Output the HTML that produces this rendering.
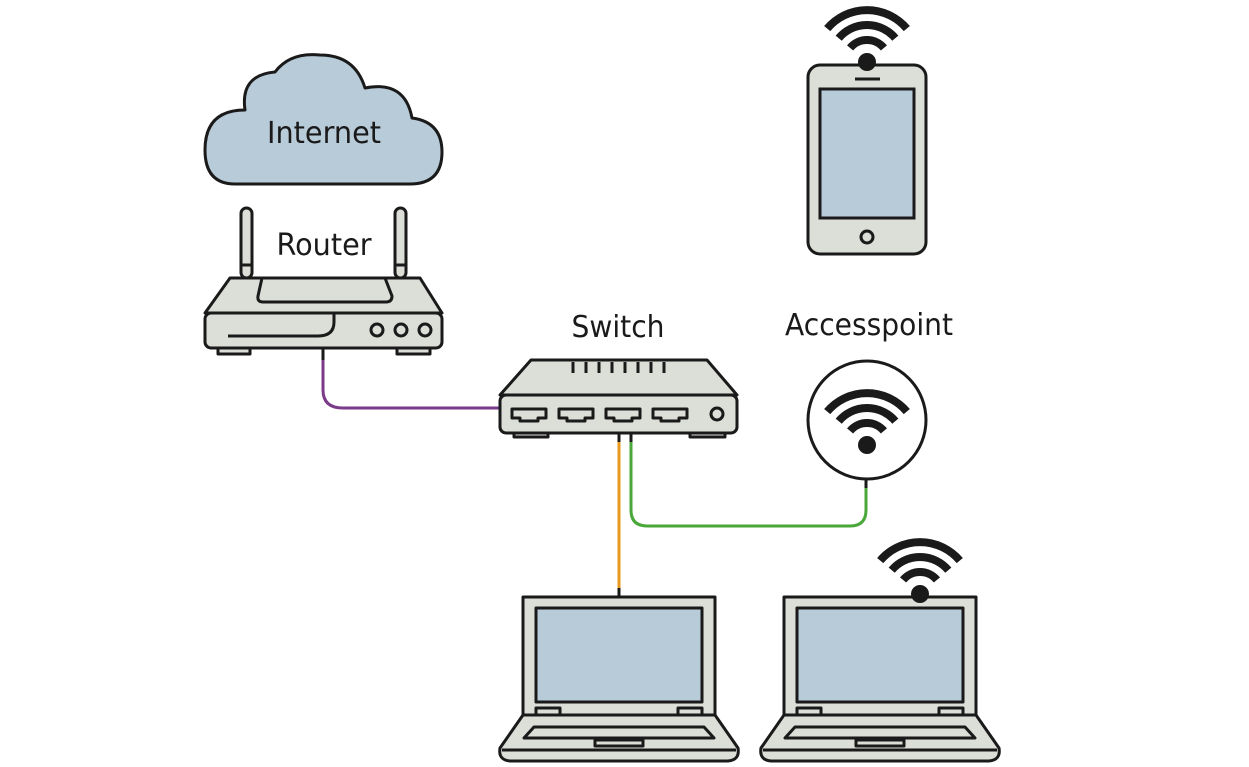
<!DOCTYPE html>
<html><head><meta charset="utf-8"><style>
html,body{margin:0;padding:0;background:#fff;}
svg{display:block}
text{font-family:"DejaVu Sans","Liberation Sans",sans-serif;fill:#1a1a1a;}
</style></head><body>
<svg width="1249" height="767" viewBox="0 0 1249 767" xmlns="http://www.w3.org/2000/svg">
<defs>
<g id="wifi">
 <path d="M-16.9,-14.1 A22,22 0 0 1 16.9,-14.1" fill="none" stroke="#1a1a1a" stroke-width="8"/>
 <path d="M-28.3,-23.8 A37,37 0 0 1 28.3,-23.8" fill="none" stroke="#1a1a1a" stroke-width="8"/>
 <path d="M-39.8,-33.4 A52,52 0 0 1 39.8,-33.4" fill="none" stroke="#1a1a1a" stroke-width="8"/>
 <circle cx="0" cy="0" r="9" fill="#1a1a1a"/>
</g>
<g id="laptop" stroke="#1a1a1a" stroke-width="3" fill="#dcdfd8" stroke-linejoin="round">
 <rect x="523" y="597" width="192" height="118"/>
 <rect x="536" y="608" width="166" height="94" fill="#b8cbd9"/>
 <path d="M523,715 L715,715 L738,748 Q740,760 728,761 L510,761 Q498,760 500,748 Z"/>
 <line x1="502" y1="750" x2="736" y2="750"/>
 <path d="M534,727 L704,727 L714,738 L524,738 Z"/>
 <rect x="595" y="740" width="48" height="6"/>
 <rect x="536" y="708" width="24" height="7"/>
 <rect x="678" y="708" width="24" height="7"/>
</g>
</defs>

<!-- cables -->
<path d="M323,348 L323,390 Q323,408 343,408 L502,408" fill="none" stroke="#7b3a8a" stroke-width="3"/>
<line x1="619" y1="433" x2="619" y2="597" stroke="#e89a20" stroke-width="3"/>
<path d="M631,433 L631,510 Q631,526 647,526 L850,526 Q866,526 866,510 L866,478" fill="none" stroke="#4aa83a" stroke-width="3"/>
<line x1="619" y1="433" x2="619" y2="442" stroke="#1a1a1a" stroke-width="3"/>
<line x1="631" y1="433" x2="631" y2="442" stroke="#1a1a1a" stroke-width="3"/>
<line x1="323" y1="348" x2="323" y2="360" stroke="#1a1a1a" stroke-width="3"/>
<line x1="866" y1="478" x2="866" y2="488" stroke="#1a1a1a" stroke-width="3"/>
<line x1="619" y1="588" x2="619" y2="597" stroke="#1a1a1a" stroke-width="3"/>

<!-- cloud -->
<path d="M235,184 Q205,184 205,150 Q205,110 245,110 Q240,75 275,72 Q290,52 320,55 Q355,55 365,88 Q405,80 412,118 Q442,122 442,152 Q442,184 410,184 Z" fill="#b8cbd9" stroke="#1a1a1a" stroke-width="3" stroke-linejoin="round"/>
<text x="324" y="143" font-size="30" text-anchor="middle" textLength="114" lengthAdjust="spacingAndGlyphs">Internet</text>

<!-- router -->
<g stroke="#1a1a1a" stroke-width="3" fill="#dcdfd8" stroke-linejoin="round">
 <rect x="241" y="208" width="11" height="70" rx="5.5"/>
 <line x1="241" y1="265" x2="252" y2="265"/>
 <rect x="395" y="208" width="11" height="70" rx="5.5"/>
 <line x1="395" y1="265" x2="406" y2="265"/>
 <rect x="218" y="346" width="32" height="8"/>
 <rect x="397" y="346" width="33" height="8"/>
 <path d="M230,278 L420,278 L442,313 L205,313 Z"/>
 <rect x="205" y="313" width="237" height="35" rx="6"/>
 <path d="M262,278 L385,278 L392,296 Q392,302 386,302 L263,302 Q257,302 258,296 Z"/>
 <path d="M228,336 L318,336 Q334,336 334,322 L334,313" fill="none"/>
 <circle cx="377" cy="330" r="6"/>
 <circle cx="401" cy="330" r="6"/>
 <circle cx="425" cy="330" r="6"/>
</g>
<text x="324" y="255" font-size="30" text-anchor="middle" textLength="95" lengthAdjust="spacingAndGlyphs">Router</text>

<!-- switch -->
<g stroke="#1a1a1a" stroke-width="3" fill="#dcdfd8" stroke-linejoin="round">
 <rect x="514" y="430" width="34" height="7"/>
 <rect x="690" y="430" width="35" height="7"/>
 <path d="M531,360 L707,360 L737,395 L500,395 Z"/>
 <rect x="500" y="395" width="237" height="38" rx="6"/>
 <path d="M512,409 L546,409 L546,418 L538,418 L538,421 L520,421 L520,418 L512,418 Z"/>
 <path d="M559,409 L593,409 L593,418 L585,418 L585,421 L567,421 L567,418 L559,418 Z"/>
 <path d="M606,409 L640,409 L640,418 L632,418 L632,421 L614,421 L614,418 L606,418 Z"/>
 <path d="M653,409 L687,409 L687,418 L679,418 L679,421 L661,421 L661,418 L653,418 Z"/>
 <circle cx="717" cy="414" r="6"/>
 <g fill="none"><path d="M573,362v11M586,362v11M599,362v11M612,362v11M625,362v11M638,362v11M651,362v11M664,362v11"/></g>
</g>
<text x="618" y="337" font-size="30" text-anchor="middle" textLength="93" lengthAdjust="spacingAndGlyphs">Switch</text>

<!-- accesspoint -->
<text x="869" y="335" font-size="30" text-anchor="middle" textLength="168" lengthAdjust="spacingAndGlyphs">Accesspoint</text>
<circle cx="867" cy="420" r="59" fill="#fff" stroke="#1a1a1a" stroke-width="3"/>
<use href="#wifi" transform="translate(867,445)"/>

<!-- phone -->
<rect x="808" y="65" width="118" height="189" rx="12" fill="#dcdfd8" stroke="#1a1a1a" stroke-width="3"/>
<rect x="820" y="89" width="94" height="129" fill="#b8cbd9" stroke="#1a1a1a" stroke-width="3"/>
<line x1="855" y1="79" x2="880" y2="79" stroke="#1a1a1a" stroke-width="3"/>
<circle cx="867" cy="237" r="6" fill="#dcdfd8" stroke="#1a1a1a" stroke-width="3"/>
<use href="#wifi" transform="translate(867,62)"/>

<!-- laptops -->
<use href="#laptop"/>
<use href="#laptop" transform="translate(261,0)"/>
<use href="#wifi" transform="translate(920,594)"/>
</svg>
</body></html>
